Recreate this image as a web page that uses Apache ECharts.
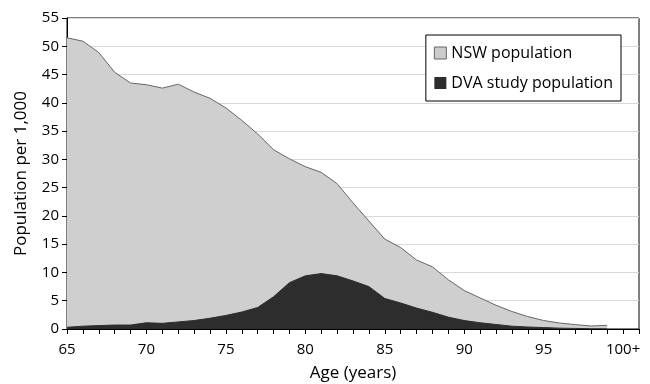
<!DOCTYPE html>
<html>
<head>
<meta charset="utf-8">
<script src="https://cdn.jsdelivr.net/npm/echarts@6/dist/echarts.min.js"></script>
<style>html,body{margin:0;padding:0;background:#fff}#c{width:650px;height:384px}</style>
</head>
<body>
<div id="c"></div>
<script>
const ages = [65,66,67,68,69,70,71,72,73,74,75,76,77,78,79,80,81,82,83,84,85,86,87,88,89,90,91,92,93,94,95,96,97,98,99];
const nsw = [51.5,50.9,48.9,45.4,43.5,43.2,42.6,43.3,41.9,40.8,39.1,36.9,34.5,31.7,30.1,28.7,27.7,25.7,22.3,19.1,15.9,14.4,12.2,11.0,8.7,6.8,5.5,4.2,3.1,2.2,1.5,1.06,0.77,0.53,0.65];
const dva = [0.3,0.5,0.6,0.7,0.7,1.1,1.0,1.25,1.5,1.9,2.4,3.0,3.8,5.7,8.2,9.4,9.8,9.4,8.5,7.5,5.4,4.6,3.7,2.95,2.1,1.5,1.1,0.8,0.5,0.35,0.25,0.15,0.1,0.05,0.05];
const xTickLabels = {65:'65',70:'70',75:'75',80:'80',85:'85',90:'90',95:'95',100:'100+'};
const yTicks = [0,5,10,15,20,25,30,35,40,45,50,55];

const font = 'Open Sans';
const chart = echarts.init(document.getElementById('c'), null, {renderer:'canvas'});
chart.setOption({
  animation:false,
  grid:{left:67,right:11,top:18,bottom:55,show:true,borderColor:'#000',borderWidth:1,backgroundColor:'transparent',
        containLabel:false, outerBoundsMode:'none'},
  legend:{
    right:29, top:35, orient:'vertical', itemWidth:12, itemHeight:12, itemGap:14,
    padding:[10,8,10,8], borderColor:'#000', borderWidth:1, backgroundColor:'#fff',
    icon:'rect',
    textStyle:{fontFamily:font,fontSize:16,color:'#000'},
    data:[{name:'NSW population',itemStyle:{color:'#cccccc',borderColor:'#666',borderWidth:1}},
          {name:'DVA study population',itemStyle:{color:'#2d2d2d'}}]
  },
  xAxis:{
    type:'value', min:65, max:101, interval:1,
    name:'Age (years)', nameLocation:'middle', nameGap:36,
    nameTextStyle:{fontFamily:font,fontSize:17,color:'#000'},
    axisLine:{show:true,onZero:false,lineStyle:{color:'#000',width:1}},
    axisTick:{show:true,length:5,lineStyle:{color:'#000'}},
    axisLabel:{fontFamily:font,fontSize:15,color:'#000',margin:13,
      formatter:v=> xTickLabels[v]!==undefined ? xTickLabels[v] : ''},
    splitLine:{show:false}
  },
  yAxis:{
    type:'value', min:yTicks[0], max:yTicks[yTicks.length-1], interval:5,
    name:'Population per 1,000', nameLocation:'middle', nameGap:37,
    nameTextStyle:{fontFamily:font,fontSize:17,color:'#000'},
    axisLine:{show:true,lineStyle:{color:'#000',width:1}},
    axisTick:{show:true,length:5,lineStyle:{color:'#000'}},
    axisLabel:{fontFamily:font,fontSize:15,color:'#000',margin:8},
    splitLine:{show:true,lineStyle:{color:'#d9d9d9',width:1}}
  },
  series:[
    {name:'NSW population', type:'line', symbol:'none', z:2,
     data:ages.map((a,i)=>[a,nsw[i]]),
     lineStyle:{color:'#666',width:1},
     itemStyle:{color:'#cccccc'},
     areaStyle:{color:'#cfcfcf',opacity:1}},
    {name:'DVA study population', type:'line', symbol:'none', z:3,
     data:ages.map((a,i)=>[a,dva[i]]),
     lineStyle:{color:'#2d2d2d',width:1},
     itemStyle:{color:'#2d2d2d'},
     areaStyle:{color:'#2d2d2d',opacity:1}}
  ]
});
</script>
</body>
</html>
